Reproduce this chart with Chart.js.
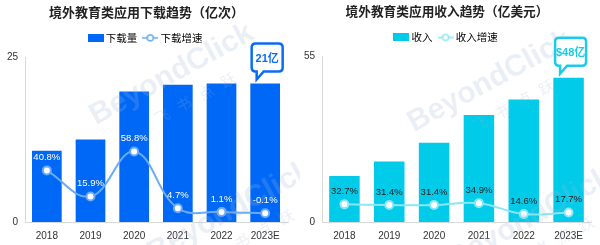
<!DOCTYPE html>
<html>
<head>
<meta charset="utf-8">
<script src="https://cdn.jsdelivr.net/npm/chart.js@4"></script>
<style>
  body { margin: 0; background: #fff; }
  .wrap { display: flex; width: 600px; height: 245px; }
  .box { position: relative; width: 300px; height: 245px; }
</style>
</head>
<body>
<div class="wrap">
  <div class="box"><canvas id="downloadChart"></canvas></div>
  <div class="box"><canvas id="revenueChart"></canvas></div>
</div>
<script>
var years = ['2018', '2019', '2020', '2021', '2022', '2023E'];
var downloads = [10.8, 12.5, 19.8, 20.8, 21.0, 21.0];
var downloadGrowth = [40.8, 15.9, 58.8, 4.7, 1.1, -0.1];
var revenue = [15.3, 20.1, 26.4, 35.6, 40.8, 48.0];
var revenueGrowth = [32.7, 31.4, 31.4, 34.9, 14.6, 17.7];
var downloadCallout = '21亿';
var revenueCallout = '$48亿';

var FONT = "'Liberation Sans', 'Noto Sans CJK SC', sans-serif";
var CJK = "'Noto Sans CJK SC', sans-serif";

// small images for the legend markers
function barMarker(color) {
    var c = document.createElement('canvas');
    c.width = 16; c.height = 8;
    var g = c.getContext('2d');
    g.fillStyle = color;
    g.fillRect(0, 0, 16, 8);
    return c;
}
function lineMarker(color) {
    var c = document.createElement('canvas');
    c.width = 16; c.height = 10;
    var g = c.getContext('2d');
    g.strokeStyle = color;
    g.lineWidth = 1.5;
    g.beginPath(); g.moveTo(0, 5); g.lineTo(16, 5); g.stroke();
    g.fillStyle = '#fff';
    g.beginPath(); g.arc(8, 5, 3, 0, Math.PI * 2); g.fill(); g.stroke();
    return c;
}

// a few px of empty space between the legend and the plot
var spacer = {
    id: 'spacer',
    beforeInit: function (chart) {
        Chart.layouts.addBox(chart, {
            position: 'top',
            weight: 500,
            fullSize: true,
            options: {},
            isHorizontal: function () { return true; },
            update: function (maxWidth) { this.width = maxWidth; this.height = 4; },
            getPadding: function () { return { top: 0, left: 0, right: 0, bottom: 0 }; },
            draw: function () {}
        });
    }
};

// percentage labels above the growth points
var growthLabels = {
    id: 'growthLabels',
    afterDatasetsDraw: function (chart, args, opts) {
        var ctx = chart.ctx;
        var meta = chart.getDatasetMeta(1);
        var data = chart.data.datasets[1].data;
        ctx.save();
        ctx.font = '9.5px ' + FONT;
        ctx.fillStyle = opts.color;
        ctx.textAlign = 'center';
        ctx.textBaseline = 'middle';
        meta.data.forEach(function (pt, i) {
            ctx.fillText(data[i].toFixed(1) + '%', pt.x, pt.y - 13);
        });
        ctx.restore();
    }
};

// speech bubble above the last bar
var callout = {
    id: 'callout',
    afterDatasetsDraw: function (chart, args, opts) {
        var ctx = chart.ctx;
        var meta = chart.getDatasetMeta(0);
        var bar = meta.data[meta.data.length - 1];
        var cx = bar.x + 2, bottom = bar.y - 12, w = 31, h = 28;
        var left = cx - w / 2, top = bottom - h, r = 4;
        ctx.save();
        ctx.lineWidth = 2.5;
        ctx.strokeStyle = opts.color;
        ctx.fillStyle = '#fff';
        ctx.beginPath();
        ctx.moveTo(left + r, top);
        ctx.lineTo(left + w - r, top);
        ctx.quadraticCurveTo(left + w, top, left + w, top + r);
        ctx.lineTo(left + w, bottom - r);
        ctx.quadraticCurveTo(left + w, bottom, left + w - r, bottom);
        ctx.lineTo(left + 12, bottom);
        ctx.lineTo(left + 5, bottom + 8);
        ctx.lineTo(left + 5, bottom);
        ctx.lineTo(left + r, bottom);
        ctx.quadraticCurveTo(left, bottom, left, bottom - r);
        ctx.lineTo(left, top + r);
        ctx.quadraticCurveTo(left, top, left + r, top);
        ctx.closePath();
        ctx.fill();
        ctx.stroke();
        ctx.fillStyle = opts.color;
        ctx.font = 'bold 11px ' + FONT;
        ctx.textAlign = 'center';
        ctx.textBaseline = 'middle';
        ctx.fillText(opts.text, left + w / 2, top + h / 2 + 1);
        ctx.restore();
    }
};

// faint watermark
var watermark = {
    id: 'watermark',
    afterDatasetsDraw: function (chart, args, opts) {
        var ctx = chart.ctx;
        ctx.save();
        ctx.globalAlpha = 0.22;
        ctx.fillStyle = '#9fb4d8';
        opts.spots.forEach(function (s) {
            ctx.save();
            ctx.translate(s[0], s[1]);
            ctx.rotate(-0.5);
            ctx.font = 'bold 30px ' + FONT;
            ctx.fillText('BeyondClick', 0, 0);
            ctx.font = '15px ' + CJK;
            ctx.fillText('飞   书   点   跃', 55, 32);
            ctx.restore();
        });
        ctx.restore();
    }
};

function makeChart(id, cfg) {
    var ctx = document.getElementById(id).getContext('2d');
    return new Chart(ctx, {
        type: 'bar',
        data: {
            labels: years,
            datasets: [{
                type: 'bar',
                label: cfg.barLabel,
                data: cfg.bars,
                backgroundColor: cfg.barColor,
                categoryPercentage: 0.68,
                barPercentage: 1,
                yAxisID: 'y',
                order: 2
            }, {
                type: 'line',
                label: cfg.lineLabel,
                data: cfg.growth,
                borderColor: cfg.lineColor,
                borderWidth: 2,
                tension: 0.4,
                pointRadius: 4,
                pointBorderWidth: 2,
                pointBackgroundColor: '#fff',
                pointBorderColor: cfg.lineColor,
                yAxisID: 'y1',
                order: 1
            }]
        },
        plugins: [spacer, watermark, growthLabels, callout],
        options: {
            responsive: false,
            animation: false,
            layout: { padding: { left: cfg.padLeft, right: cfg.padRight, top: 4, bottom: 0 } },
            plugins: {
                title: {
                    display: true,
                    text: cfg.title,
                    color: '#222',
                    font: { family: CJK, size: cfg.titleSize, weight: 'bold' },
                    padding: { top: 0, bottom: 5 }
                },
                legend: {
                    display: true,
                    labels: {
                        usePointStyle: true,
                        pointStyleWidth: 10,
                        padding: 8,
                        color: '#333',
                        font: { family: CJK, size: 10.5 },
                        generateLabels: function () {
                            return [
                                { text: cfg.barLabel, pointStyle: barMarker(cfg.barColor), fillStyle: cfg.barColor, strokeStyle: cfg.barColor, lineWidth: 0, datasetIndex: 0, hidden: false },
                                { text: cfg.lineLabel, pointStyle: lineMarker(cfg.lineColor), fillStyle: '#fff', strokeStyle: cfg.lineColor, lineWidth: 0, datasetIndex: 1, hidden: false }
                            ];
                        }
                    }
                },
                tooltip: { enabled: false },
                growthLabels: { color: cfg.labelColor },
                callout: { color: cfg.calloutColor, text: cfg.callout },
                watermark: { spots: cfg.watermark }
            },
            scales: {
                x: {
                    grid: { display: false, drawTicks: false },
                    border: { display: true, color: '#d9d9d9' },
                    ticks: { color: '#333', padding: 8, font: { family: FONT, size: 10 } },
                    afterFit: function (s) { s.height = 23; }
                },
                y: {
                    min: 0,
                    max: cfg.max,
                    grid: { display: false, drawTicks: false },
                    border: { display: true, color: '#d9d9d9' },
                    ticks: { stepSize: cfg.max, color: '#333', padding: 7, font: { family: FONT, size: 10 } },
                    afterFit: function (s) { s.width = cfg.axisWidth; }
                },
                y1: {
                    display: false,
                    min: cfg.growthMin,
                    max: cfg.growthMax
                }
            }
        }
    });
}

document.getElementById('downloadChart').width = 300;
document.getElementById('downloadChart').height = 245;
document.getElementById('revenueChart').width = 300;
document.getElementById('revenueChart').height = 245;

makeChart('downloadChart', {
    title: '境外教育类应用下载趋势（亿次）',
    titleSize: 13,
    barLabel: '下载量',
    lineLabel: '下载增速',
    bars: downloads,
    growth: downloadGrowth,
    barColor: '#0068f7',
    lineColor: '#6aaaf6',
    labelColor: '#fff',
    calloutColor: '#0a6cf5',
    callout: downloadCallout,
    max: 25,
    growthMin: -8.5,
    growthMax: 149,
    axisWidth: 19,
    padLeft: 6,
    padRight: 13,
    watermark: [[92, 118], [150, 255]]
});

makeChart('revenueChart', {
    title: '境外教育类应用收入趋势（亿美元）',
    titleSize: 12.7,
    barLabel: '收入',
    lineLabel: '收入增速',
    bars: revenue,
    growth: revenueGrowth,
    barColor: '#00cbe9',
    lineColor: '#8ae7f7',
    labelColor: '#222',
    calloutColor: '#1dcbe8',
    callout: revenueCallout,
    max: 55,
    growthMin: 0,
    growthMax: 306,
    axisWidth: 19,
    padLeft: 3,
    padRight: 9,
    watermark: [[110, 125], [150, 262]]
});
</script>
</body>
</html>
